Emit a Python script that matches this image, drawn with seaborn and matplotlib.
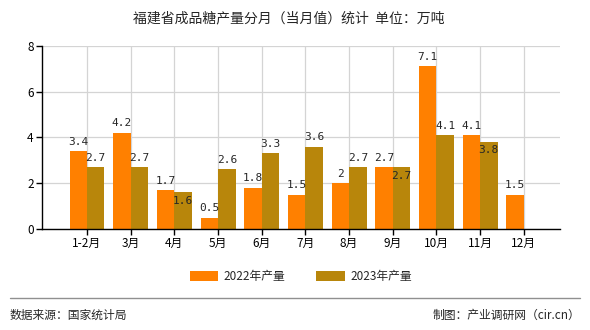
import matplotlib
matplotlib.use("Agg")
import matplotlib.pyplot as plt
import seaborn as sns
import pandas as pd

months = ["1-2月", "3月", "4月", "5月", "6月", "7月", "8月", "9月", "10月", "11月", "12月"]
output_2022 = [3.4, 4.2, 1.7, 0.5, 1.8, 1.5, 2.0, 2.7, 7.1, 4.1, 1.5]
output_2023 = [2.7, 2.7, 1.6, 2.6, 3.3, 3.6, 2.7, 2.7, 4.1, 3.8, None]
series_names = ["2022年产量", "2023年产量"]
colors = ["#FF8000", "#B8860B"]

sns.set_theme(style="white")
plt.rcParams["font.family"] = ["Noto Sans CJK SC", "DejaVu Sans"]

df = pd.DataFrame({
    "月份": months * 2,
    "产量": output_2022 + output_2023,
    "系列": [series_names[0]] * len(months) + [series_names[1]] * len(months),
})

fig = plt.figure(figsize=(5.9, 3.3), dpi=100)
ax = fig.add_axes([0.0712, 0.306, 0.878, 0.555])

sns.barplot(data=df, x="月份", y="产量", hue="系列", palette=colors,
            width=0.8, saturation=1, linewidth=0, edgecolor="none",
            ax=ax, legend=True)

ax.set_xlim(-1.03, 10.83)
ax.set_ylim(0, 8)
ax.set_yticks([0, 2, 4, 6, 8])
ax.set_xlabel("")
ax.set_ylabel("")
ax.grid(True, color="#d4d4d4", linewidth=0.9)
ax.set_axisbelow(True)
for s in ["top", "right"]:
    ax.spines[s].set_visible(False)
for s in ["left", "bottom"]:
    ax.spines[s].set_color("black")
    ax.spines[s].set_linewidth(1.0)
ax.tick_params(axis="both", which="both", length=4, width=1, color="black",
               labelsize=8.5, colors="black", direction="out", pad=2,
               bottom=True, left=True)

# Value labels: above the bar, or just inside when it would collide with the neighbour
mono = "DejaVu Sans Mono"
for i in range(len(months)):
    a = output_2022[i]
    b = output_2023[i]
    ax.text(i - 0.2, a + 0.2, f"{a:g}", ha="center", va="bottom",
            fontsize=8, family=mono)
    if b is None:
        continue
    if abs(a - b) <= 0.3:
        ax.text(i + 0.2, b - 0.15, f"{b:g}", ha="center", va="top",
                fontsize=8, family=mono)
    else:
        ax.text(i + 0.2, b + 0.2, f"{b:g}", ha="center", va="bottom",
                fontsize=8, family=mono)

leg = ax.legend(loc="center", bbox_to_anchor=(0.5, -0.258), ncol=2, frameon=False,
                fontsize=8.5, handlelength=2.4, handleheight=0.9, columnspacing=2.6,
                handletextpad=0.5)

fig.text(0.49, 0.945, "福建省成品糖产量分月（当月值）统计  单位：万吨",
         ha="center", va="center", fontsize=10)

fig.add_artist(plt.Line2D([0.017, 0.983], [0.097, 0.097], color="#909090",
                          linewidth=1.0, transform=fig.transFigure))
fig.text(0.017, 0.045, "数据来源：国家统计局", ha="left", va="center", fontsize=8.5)
fig.text(0.983, 0.045, "制图：产业调研网（cir.cn）", ha="right", va="center", fontsize=8.5)

fig.savefig("out.png", dpi=100, facecolor="white")
